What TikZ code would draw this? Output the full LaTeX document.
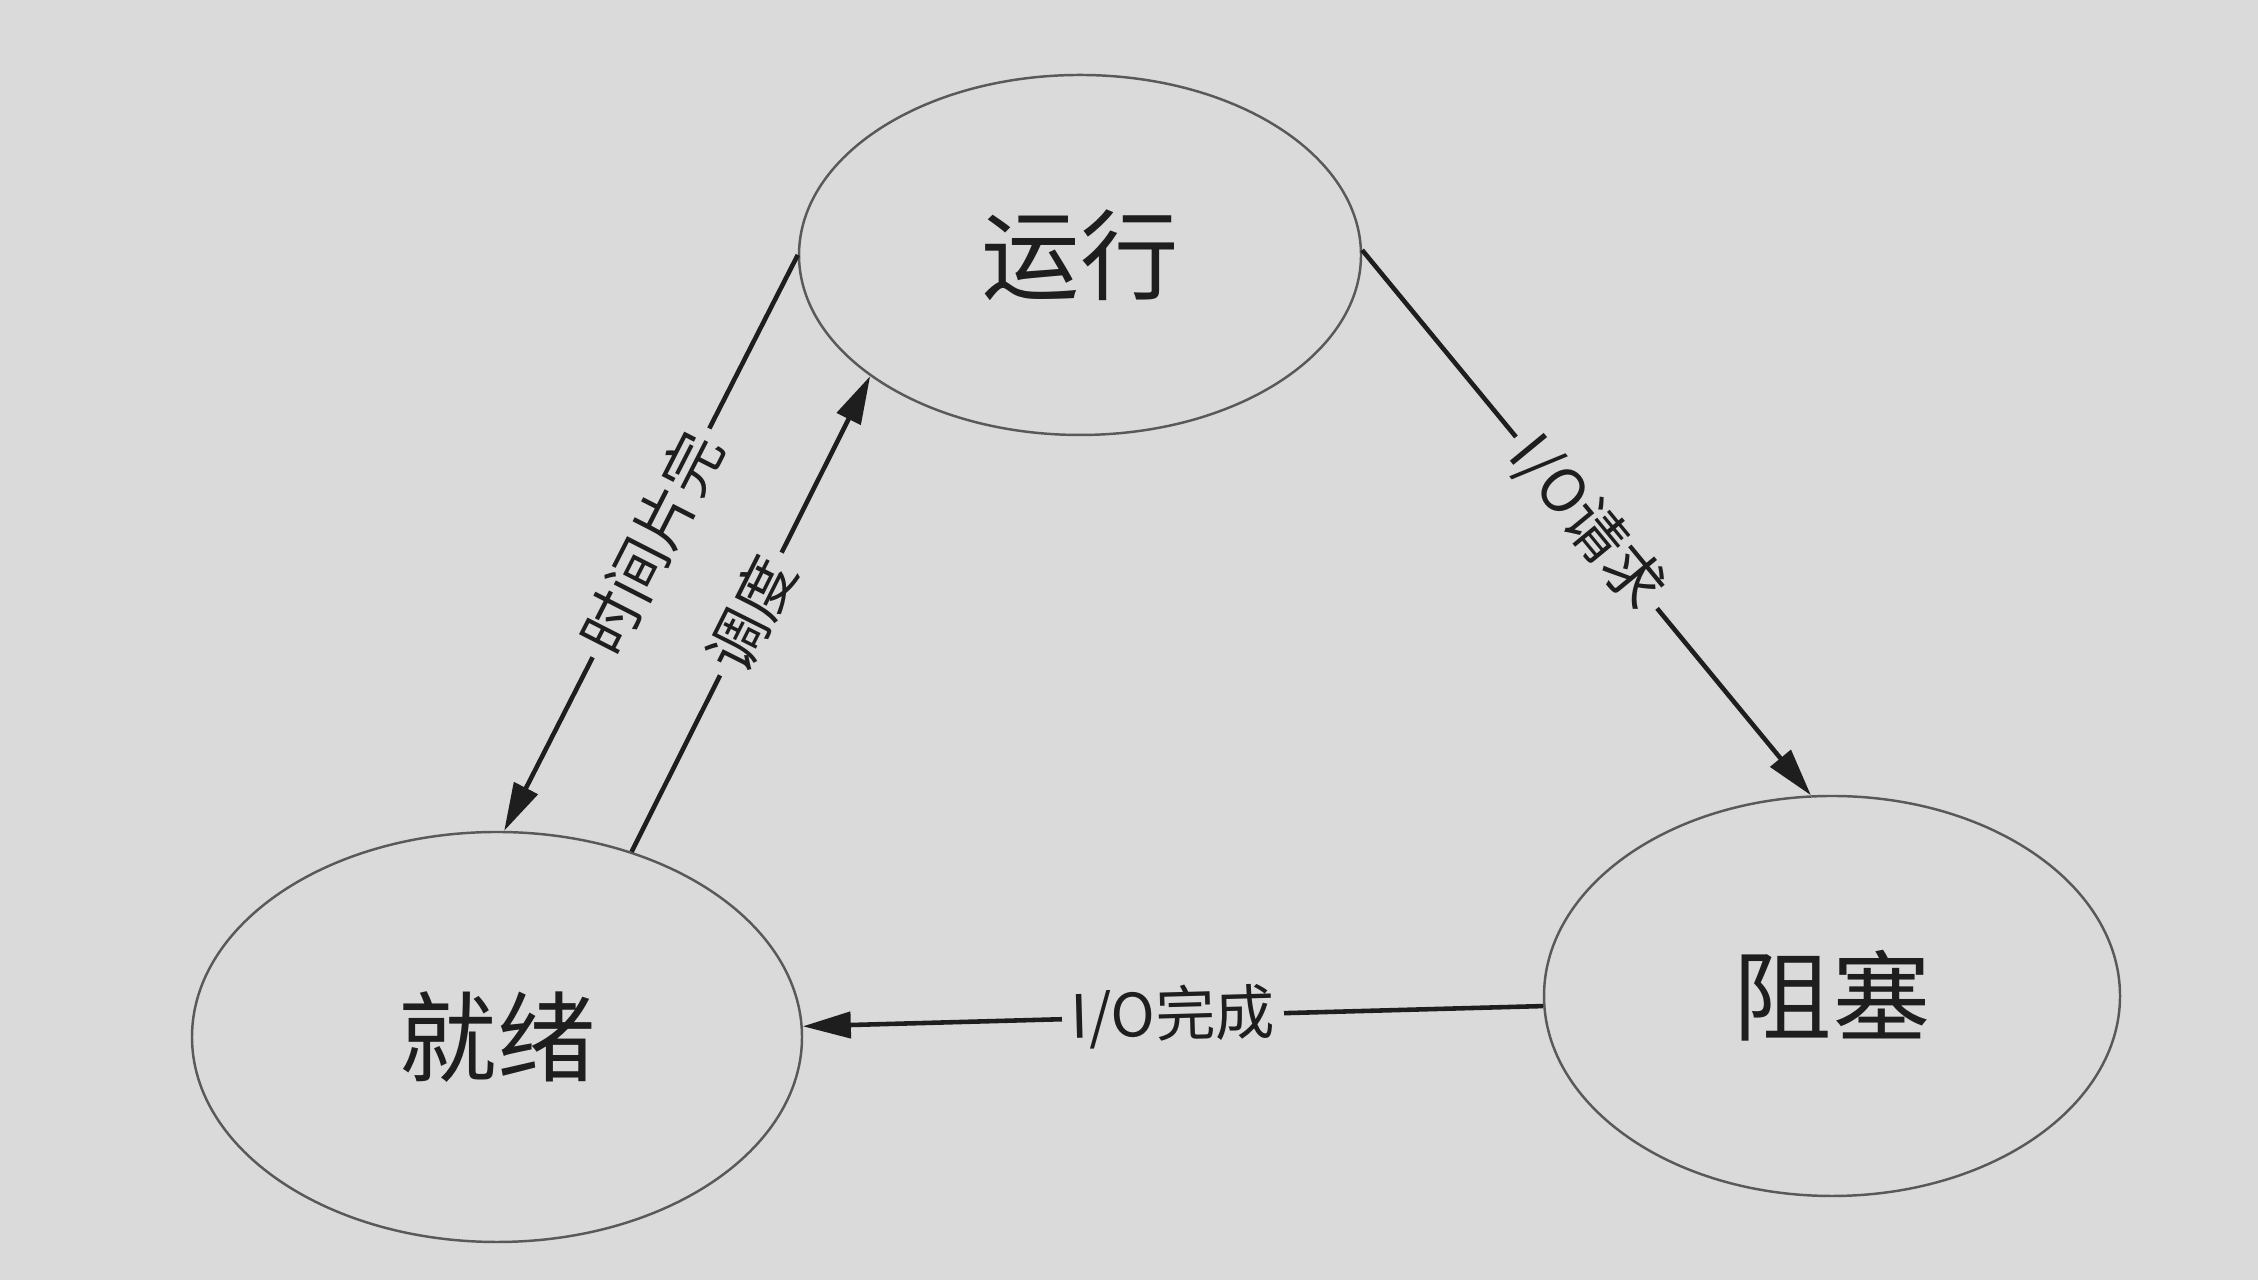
\documentclass[tikz,border=0pt]{standalone}
\usepackage{fontspec}
\setmainfont{Noto Sans CJK SC}
\usetikzlibrary{shapes.geometric,arrows.meta}
\definecolor{paper}{HTML}{DADADA}
\definecolor{ink}{HTML}{1E1E1E}
\tikzset{
  statenode/.style={ellipse, draw=black!65, line width=0.7pt, inner sep=0pt,
    text=ink, font=\fontsize{28}{32}\selectfont},
  trans/.style={draw=ink, line width=1.3pt,
    -{Triangle[length=0.48cm,width=0.26cm]}},
  translabel/.style={midway, sloped, fill=paper, inner sep=2.5pt, text=ink,
    font=\fontsize{17}{20}\selectfont}
}
\begin{document}
\begin{tikzpicture}
\fill[paper] (0,0) rectangle (22.58,12.80);
\useasboundingbox (0,0) rectangle (22.58,12.80);
\node[statenode, minimum width=5.62cm, minimum height=3.60cm] (run) at (10.80,10.25) {运行};
\node[statenode, minimum width=6.10cm, minimum height=4.10cm] (ready) at (4.97,2.43) {就绪};
\node[statenode, minimum width=5.76cm, minimum height=4.00cm] (block) at (18.32,2.84) {阻塞};
\draw[trans] (run.180) -- node[translabel] {时间片完} (ready.88);
\draw[trans] (ready.54) -- node[translabel] {调度} (run.210);
\draw[trans] (run.1.5) -- node[translabel] {I/O请求} (block.96);
\draw[trans] (block.182) -- node[translabel] {I/O完成} (ready.2);
\end{tikzpicture}
\end{document}
